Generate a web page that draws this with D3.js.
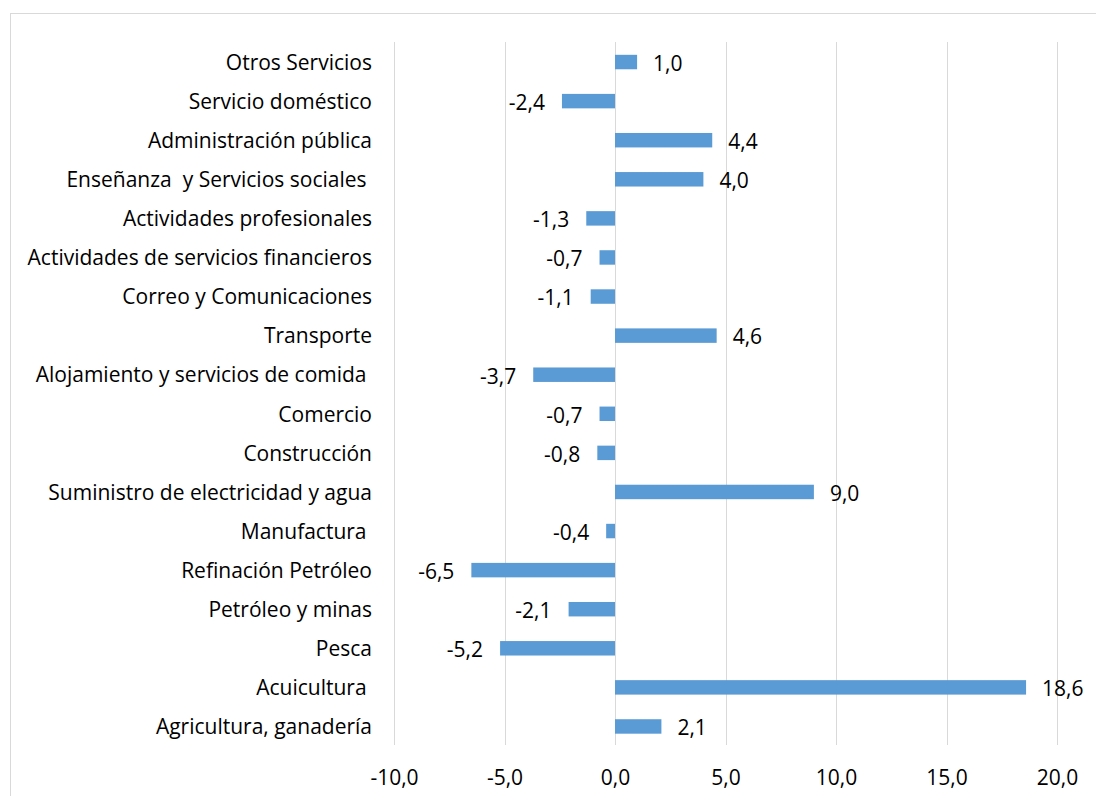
<!DOCTYPE html>
<html>
<head>
<meta charset="utf-8">
<script src="https://cdn.jsdelivr.net/npm/d3@7"></script>
<style>
  html, body { margin: 0; padding: 0; background: #fff; }
  svg { display: block; }
  text { font-family: "Open Sans", Lato, sans-serif; fill: #000; }
</style>
</head>
<body>
<svg id="chart" width="1096" height="796"></svg>
<script>
// Sectors, top to bottom, and their growth rates (%)
const categories = [
  "Otros Servicios",
  "Servicio doméstico",
  "Administración pública",
  "Enseñanza  y Servicios sociales ",
  "Actividades profesionales",
  "Actividades de servicios financieros",
  "Correo y Comunicaciones",
  "Transporte",
  "Alojamiento y servicios de comida ",
  "Comercio",
  "Construcción",
  "Suministro de electricidad y agua",
  "Manufactura ",
  "Refinación Petróleo",
  "Petróleo y minas",
  "Pesca",
  "Acuicultura ",
  "Agricultura, ganadería"
];
const values = [1.0, -2.4, 4.4, 4.0, -1.3, -0.7, -1.1, 4.6, -3.7, -0.7, -0.8, 9.0, -0.4, -6.5, -2.1, -5.2, 18.6, 2.1];
const tickValues = [-10, -5, 0, 5, 10, 15, 20];

const fmt = v => v.toFixed(1).replace(".", ",");
const FONT = "'Open Sans', Lato, sans-serif";
const FS = "21px";

const svg = d3.select("#chart");

// Chart frame (runs past the right and bottom edges)
svg.append("rect")
  .attr("x", 10.5).attr("y", 13.5)
  .attr("width", 1200).attr("height", 900)
  .attr("fill", "none").attr("stroke", "#D9D9D9").attr("stroke-width", 1);

const plot = { left: 394, right: 1057, top: 42.5, bottom: 746 };

const x = d3.scaleLinear().domain([-10, 20]).range([plot.left, plot.right]);
const y = d3.scaleBand().domain(categories).range([plot.top, plot.bottom]).paddingInner(0.63).paddingOuter(0.315);

// Vertical gridlines
svg.append("g")
  .selectAll("line")
  .data(tickValues)
  .join("line")
  .attr("x1", d => Math.round(x(d)) + 0.5).attr("x2", d => Math.round(x(d)) + 0.5)
  .attr("y1", 42).attr("y2", 745)
  .attr("stroke", "#D9D9D9").attr("stroke-width", 1);

// Value axis labels
const xAxis = d3.axisBottom(x).tickValues(tickValues).tickFormat(fmt).tickSize(0).tickPadding(0);
const gx = svg.append("g").attr("transform", "translate(0,745)").call(xAxis);
gx.select(".domain").remove();
gx.selectAll("text")
  .attr("y", 40).attr("dy", null)
  .style("font-family", FONT)
  .style("font-size", FS).attr("fill", "#000");

// Category labels
const yAxis = d3.axisLeft(y).tickSize(0).tickPadding(0);
const gy = svg.append("g").attr("transform", "translate(372,0)").call(yAxis);
gy.select(".domain").remove();
gy.selectAll("text")
  .attr("x", 0).attr("dy", "0.37em")
  .style("white-space", "pre")
  .style("font-family", FONT)
  .style("font-size", FS).attr("fill", "#000");

// Bars
const bars = categories.map((c, i) => ({ c, v: values[i] }));
svg.append("g")
  .selectAll("rect")
  .data(bars)
  .join("rect")
  .attr("x", d => x(Math.min(0, d.v)))
  .attr("width", d => Math.abs(x(d.v) - x(0)))
  .attr("y", d => y(d.c))
  .attr("height", y.bandwidth())
  .attr("fill", "#5B9BD5");

// Data labels
svg.append("g")
  .selectAll("text")
  .data(bars)
  .join("text")
  .attr("x", d => d.v >= 0 ? x(d.v) + 16 : x(d.v) - 17)
  .attr("y", d => y(d.c) + y.bandwidth() / 2)
  .attr("dy", "0.42em")
  .attr("text-anchor", d => d.v >= 0 ? "start" : "end")
  .style("font-family", FONT)
  .style("font-size", FS)
  .text(d => fmt(d.v));
</script>
</body>
</html>
